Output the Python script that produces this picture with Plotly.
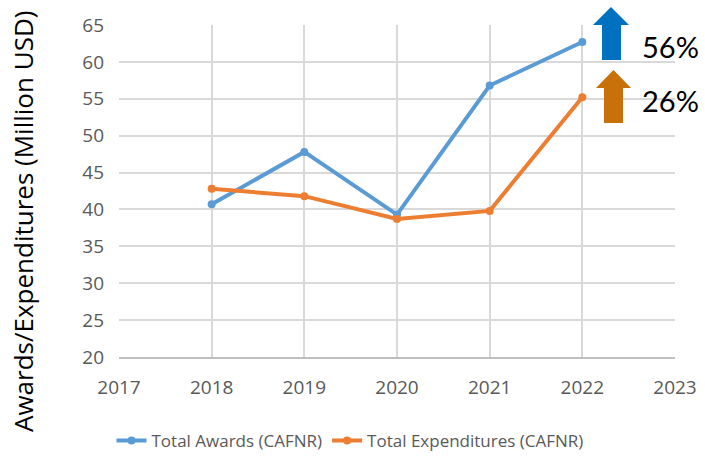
import plotly.graph_objects as go

years = [2018, 2019, 2020, 2021, 2022]
awards = [40.7, 47.8, 39.3, 56.8, 62.7]
expenditures = [42.8, 41.8, 38.7, 39.8, 55.2]
series_names = ["Total Awards (CAFNR)", "Total Expenditures (CAFNR)"]
pct_labels = ["56%", "26%"]

W, H = 705, 458
L, R, T, B = 119, 30, 25, 101
pw, ph = W - L - R, H - T - B

def px(x):
    return (x - L) / pw

def py(y):
    return (H - B - y) / ph

def arrow_path(x0, x1, sx0, sx1, ytop, yhead, ybot):
    pts = [((x0 + x1) / 2, ytop), (x1, yhead), (sx1, yhead), (sx1, ybot),
           (sx0, ybot), (sx0, yhead), (x0, yhead)]
    return "M " + " L ".join(f"{px(a):.5f},{py(b):.5f}" for a, b in pts) + " Z"

fig = go.Figure()
fig.add_trace(go.Scatter(x=years, y=awards, name=series_names[0], mode="lines+markers",
                         line=dict(color="#5B9BD5", width=4), marker=dict(size=8, color="#5B9BD5")))
fig.add_trace(go.Scatter(x=years, y=expenditures, name=series_names[1], mode="lines+markers",
                         line=dict(color="#ED7D31", width=4), marker=dict(size=8, color="#ED7D31")))

fig.update_layout(
    width=W, height=H, margin=dict(l=L, r=R, t=T, b=B, autoexpand=False),
    plot_bgcolor="white", paper_bgcolor="white",
    font=dict(family="Open Sans, Lato, sans-serif", color="#595959"),
    xaxis=dict(range=[2017, 2023], dtick=1, tick0=2017, showgrid=True, gridcolor="#D9D9D9",
               gridwidth=1.5, showline=True, linecolor="#BFBFBF", linewidth=1.5,
               ticks="", tickfont=dict(size=19, color="#595959"), zeroline=False, ticklabelstandoff=12),
    yaxis=dict(range=[20, 65], dtick=5, showgrid=True, gridcolor="#D9D9D9", gridwidth=1.5,
               zeroline=False, ticks="", tickfont=dict(size=19, color="#595959"), ticklabelstandoff=14),
    legend=dict(orientation="h", x=px(350), xanchor="center", y=py(441), yanchor="middle",
                font=dict(size=17, color="#595959"), itemwidth=30, tracegroupgap=0),
    showlegend=True,
)

fig.add_annotation(text="Awards/Expenditures (Million USD)", textangle=-90, xref="paper", yref="paper",
                   x=px(23), y=py(222), xanchor="center", yanchor="middle", showarrow=False,
                   font=dict(size=26, color="black"))

fig.add_shape(type="path", xref="paper", yref="paper",
              path=arrow_path(593, 629, 602, 621, 7, 25, 60),
              fillcolor="#0070C0", line=dict(width=0))
fig.add_shape(type="path", xref="paper", yref="paper",
              path=arrow_path(596, 631, 604, 623, 70, 88, 123),
              fillcolor="#C8700A", line=dict(width=0))

fig.add_annotation(text=pct_labels[0], xref="paper", yref="paper", x=px(640), y=py(46),
                   xanchor="left", yanchor="middle", showarrow=False,
                   font=dict(size=29, color="black", family="Lato, sans-serif"))
fig.add_annotation(text=pct_labels[1], xref="paper", yref="paper", x=px(640), y=py(101),
                   xanchor="left", yanchor="middle", showarrow=False,
                   font=dict(size=29, color="black", family="Lato, sans-serif"))

fig.write_html("out.html", config={"displayModeBar": False},
               post_script="document.body.style.margin='0px';")
